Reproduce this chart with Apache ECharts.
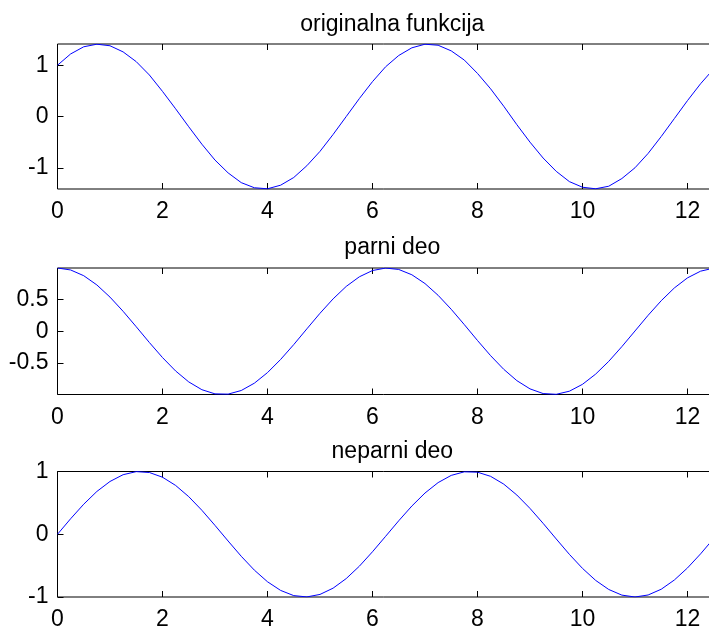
<!DOCTYPE html>
<html><head><meta charset="utf-8">
<script src="https://cdn.jsdelivr.net/npm/echarts@6/dist/echarts.min.js"></script>
<style>html,body{margin:0;padding:0;background:#fff}#c{width:709px;height:633px}</style>
</head><body><div id="c"></div>
<script>
const titles = ['originalna funkcija', 'parni deo', 'neparni deo'];
const t = [0,0.25,0.5,0.75,1,1.25,1.5,1.75,2,2.25,2.5,2.75,3,3.25,3.5,3.75,4,4.25,4.5,4.75,5,5.25,5.5,5.75,6,6.25,6.5,6.75,7,7.25,7.5,7.75,8,8.25,8.5,8.75,9,9.25,9.5,9.75,10,10.25,10.5,10.75,11,11.25,11.5,11.75,12,12.25,12.5,12.566];
const original = [1.00,1.22,1.36,1.41,1.38,1.26,1.07,0.81,0.49,0.15,-0.20,-0.54,-0.85,-1.10,-1.29,-1.39,-1.41,-1.34,-1.19,-0.96,-0.68,-0.35,0.00,0.35,0.68,0.97,1.19,1.34,1.41,1.39,1.28,1.10,0.84,0.54,0.20,-0.16,-0.50,-0.81,-1.07,-1.27,-1.38,-1.41,-1.36,-1.21,-1.00,-0.72,-0.39,-0.04,0.31,0.64,0.93,1.00];
const even = [1.000,0.969,0.878,0.732,0.540,0.315,0.071,-0.178,-0.416,-0.628,-0.801,-0.924,-0.990,-0.994,-0.937,-0.821,-0.654,-0.446,-0.211,0.038,0.284,0.512,0.709,0.861,0.960,0.999,0.977,0.893,0.754,0.568,0.347,0.104,-0.146,-0.386,-0.602,-0.781,-0.911,-0.985,-0.997,-0.948,-0.839,-0.678,-0.476,-0.243,0.004,0.252,0.483,0.685,0.844,0.950,0.998,1.000];
const odd = [0.000,0.247,0.479,0.682,0.841,0.949,0.998,0.984,0.909,0.778,0.599,0.382,0.141,-0.108,-0.351,-0.572,-0.757,-0.895,-0.978,-0.999,-0.959,-0.859,-0.706,-0.509,-0.279,-0.033,0.215,0.450,0.657,0.823,0.938,0.995,0.989,0.923,0.799,0.625,0.412,0.174,-0.075,-0.320,-0.544,-0.735,-0.880,-0.970,-1.000,-0.968,-0.876,-0.729,-0.537,-0.312,-0.066,0.000];
const xTicks = [0,2,4,6,8,10,12];
const yTicks = [[-1,0,1],[-0.5,0,0.5],[-1,0,1]];
const yRanges = [[-1.4142,1.4142],[-1,1],[-1,1]];
const xMax = 12.566;

const font = "'Liberation Sans', Arial, Helvetica, sans-serif";
const grids = [
  {left:57.5, top:44, width:659.7, height:145},
  {left:57.5, top:268, width:659.7, height:126.5},
  {left:57.5, top:471.5, width:659.7, height:125.5}
];
const titleTops = [8, 231.5, 435];
const seriesData = [original, even, odd];

const option = {
  animation:false,
  backgroundColor:'#fff',
  title: titles.map((s,i)=>({text:s, left:387.3, top:titleTops[i], textAlign:'center',
    textStyle:{fontFamily:font, fontSize:23, fontWeight:'normal', color:'#000'}})),
  grid: grids.map(g=>Object.assign({show:true, borderColor:'#000', borderWidth:1, backgroundColor:'transparent',
    containLabel:false, outerBoundsMode:'none'}, g)),
  xAxis: [],
  yAxis: [],
  series: []
};
for (let i=0;i<3;i++){
  option.xAxis.push({type:'value', gridIndex:i, position:'bottom', min:0, max:xMax,
    axisLine:{show:false, onZero:false}, splitLine:{show:false},
    axisTick:{inside:true, length:6, lineStyle:{color:'#000'}, customValues:xTicks},
    axisLabel:{margin:11.5, fontFamily:font, fontSize:23, color:'#000', customValues:xTicks}});
  option.xAxis.push({type:'value', gridIndex:i, position:'top', min:0, max:xMax,
    axisLine:{show:false, onZero:false}, splitLine:{show:false},
    axisTick:{inside:true, length:6, lineStyle:{color:'#000'}, customValues:xTicks},
    axisLabel:{show:false}});
  option.yAxis.push({type:'value', gridIndex:i, min:yRanges[i][0], max:yRanges[i][1],
    axisLine:{show:false, onZero:false}, splitLine:{show:false},
    axisTick:{inside:true, length:6, lineStyle:{color:'#000'}, customValues:yTicks[i]},
    axisLabel:{margin:9, fontFamily:font, fontSize:23, color:'#000', customValues:yTicks[i]}});
  option.series.push({type:'line', xAxisIndex:2*i, yAxisIndex:i, showSymbol:false, symbol:'none',
    lineStyle:{color:'#0000ff', width:1}, data:t.map((x,k)=>[x, seriesData[i][k]])});
}
echarts.init(document.getElementById('c')).setOption(option);
</script></body></html>
